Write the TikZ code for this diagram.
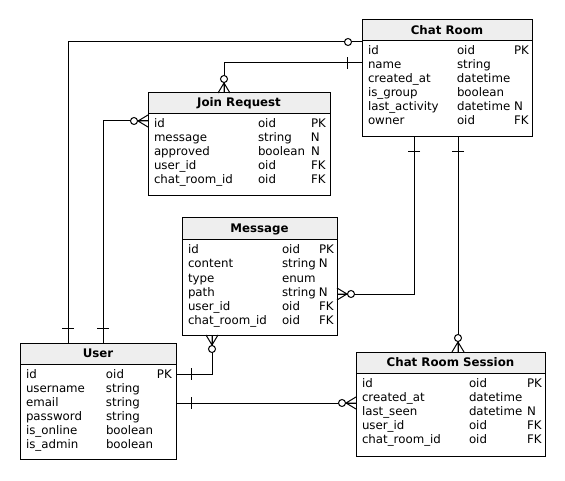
\documentclass[tikz,border=0pt]{standalone}
\usepackage{fontspec}
\setmainfont{DejaVu Sans}
\usetikzlibrary{calc}
\definecolor{headfill}{RGB}{238,238,238}
% fixed-width cell inside a field row
\newcommand{\fc}[2]{\makebox[#1pt][l]{#2}}
\begin{document}
\begin{tikzpicture}[x=1pt,y=-1pt,
  every node/.style={font=\fontsize{11.8}{14}\selectfont},
  tbl/.style={draw, line width=1pt, anchor=north west, inner sep=0pt, outer sep=0pt},
  thead/.style={draw, line width=1pt, fill=headfill, anchor=north west, inner sep=0pt, outer sep=0pt,
    font=\fontsize{11.8}{14}\selectfont\bfseries},
  fld/.style={anchor=base west, inner sep=0pt, outer sep=0pt},
  conn/.style={line width=1pt},
  % relationship ends, drawn outward along local +x from the table edge
  pics/one/.style={code={\draw[conn] (15,-6) -- (15,6);}},
  pics/optional/.style={code={\draw[conn,fill=white] (14,0) circle[radius=3.5];}},
  pics/zeromany/.style={code={
    \draw[conn] (0,-6) -- (10,0) -- (0,6) (0,0) -- (10,0);
    \draw[conn,fill=white] (14,0) circle[radius=3.5];}},
]
\fill[white] (0,0) rectangle (565,481);
\useasboundingbox (0,0) rectangle (565,481);

% ---------- Chat Room ----------
\node[tbl, minimum width=170, minimum height=117] (cr) at (362,20) {};
\node[thead, minimum width=170, minimum height=21] (crh) at (362,20) {Chat Room};
\node[fld] (cr1) at (368,55) {\fc{89}{id}\fc{57}{oid}PK};
\node[fld] (cr2) at (368,69) {\fc{89}{name}\fc{57}{string}};
\node[fld] (cr3) at (368,83) {\fc{89}{created\_at}\fc{57}{datetime}};
\node[fld] (cr4) at (368,97) {\fc{89}{is\_group}\fc{57}{boolean}};
\node[fld] (cr5) at (368,111) {\fc{89}{last\_activity}\fc{57}{datetime}N};
\node[fld] (cr6) at (368,125) {\fc{89}{owner}\fc{57}{oid}FK};

% ---------- Join Request ----------
\node[tbl, minimum width=182, minimum height=103] (jr) at (148,93) {};
\node[thead, minimum width=182, minimum height=21] (jrh) at (148,93) {Join Request};
\node[fld] (jr1) at (154,128) {\fc{104}{id}\fc{53}{oid}PK};
\node[fld] (jr2) at (154,142) {\fc{104}{message}\fc{53}{string}N};
\node[fld] (jr3) at (154,156) {\fc{104}{approved}\fc{53}{boolean}N};
\node[fld] (jr4) at (154,170) {\fc{104}{user\_id}\fc{53}{oid}FK};
\node[fld] (jr5) at (154,184) {\fc{104}{chat\_room\_id}\fc{53}{oid}FK};

% ---------- Message ----------
\node[tbl, minimum width=155, minimum height=117] (msg) at (182,218) {};
\node[thead, minimum width=155, minimum height=22] (msgh) at (182,218) {Message};
\node[fld] (msg1) at (188,254) {\fc{94}{id}\fc{37}{oid}PK};
\node[fld] (msg2) at (188,268) {\fc{94}{content}\fc{37}{string}N};
\node[fld] (msg3) at (188,282) {\fc{94}{type}\fc{37}{enum}};
\node[fld] (msg4) at (188,296) {\fc{94}{path}\fc{37}{string}N};
\node[fld] (msg5) at (188,310) {\fc{94}{user\_id}\fc{37}{oid}FK};
\node[fld] (msg6) at (188,324) {\fc{94}{chat\_room\_id}\fc{37}{oid}FK};

% ---------- User ----------
\node[tbl, minimum width=156, minimum height=116] (usr) at (20,343) {};
\node[thead, minimum width=156, minimum height=21] (usrh) at (20,343) {User};
\node[fld] (usr1) at (26,378) {\fc{80}{id}\fc{51}{oid}PK};
\node[fld] (usr2) at (26,392) {\fc{80}{username}\fc{51}{string}};
\node[fld] (usr3) at (26,406) {\fc{80}{email}\fc{51}{string}};
\node[fld] (usr4) at (26,420) {\fc{80}{password}\fc{51}{string}};
\node[fld] (usr5) at (26,434) {\fc{80}{is\_online}\fc{51}{boolean}};
\node[fld] (usr6) at (26,448) {\fc{80}{is\_admin}\fc{51}{boolean}};

% ---------- Chat Room Session ----------
\node[tbl, minimum width=189, minimum height=104] (crs) at (356,352) {};
\node[thead, minimum width=189, minimum height=21] (crsh) at (356,352) {Chat Room Session};
\node[fld] (crs1) at (362,387) {\fc{107}{id}\fc{58}{oid}PK};
\node[fld] (crs2) at (362,401) {\fc{107}{created\_at}\fc{58}{datetime}};
\node[fld] (crs3) at (362,415) {\fc{107}{last\_seen}\fc{58}{datetime}N};
\node[fld] (crs4) at (362,429) {\fc{107}{user\_id}\fc{58}{oid}FK};
\node[fld] (crs5) at (362,443) {\fc{107}{chat\_room\_id}\fc{58}{oid}FK};

% ---------- relationships ----------
% User -- Chat Room (owner)
\draw[conn] ($(usr.north west)+(48,0)$) |- ($(cr.north west)+(0,22)$);
\pic[rotate=90] at ($(usr.north west)+(48,0)$) {one};
\pic[rotate=180] at ($(cr.north west)+(0,22)$) {optional};

% Chat Room -- Join Request
\draw[conn] ($(cr.north west)+(0,43)$) -| ($(jr.north west)+(76,0)$);
\pic[rotate=180] at ($(cr.north west)+(0,43)$) {one};
\pic[rotate=90] at ($(jr.north west)+(76,0)$) {zeromany};

% User -- Join Request
\draw[conn] ($(usr.north west)+(83,0)$) |- ($(jr.north west)+(0,28)$);
\pic[rotate=90] at ($(usr.north west)+(83,0)$) {one};
\pic[rotate=180] at ($(jr.north west)+(0,28)$) {zeromany};

% Chat Room -- Message
\draw[conn] ($(cr.south west)+(52,0)$) |- ($(msg.north east)+(0,76)$);
\pic[rotate=270] at ($(cr.south west)+(52,0)$) {one};
\pic at ($(msg.north east)+(0,76)$) {zeromany};

% Chat Room -- Chat Room Session
\draw[conn] ($(cr.south west)+(96,0)$) -- ($(crs.north west)+(102,0)$);
\pic[rotate=270] at ($(cr.south west)+(96,0)$) {one};
\pic[rotate=90] at ($(crs.north west)+(102,0)$) {zeromany};

% User -- Message
\draw[conn] ($(usr.north east)+(0,31)$) -| ($(msg.south west)+(30,0)$);
\pic at ($(usr.north east)+(0,31)$) {one};
\pic[rotate=270] at ($(msg.south west)+(30,0)$) {zeromany};

% User -- Chat Room Session
\draw[conn] ($(usr.north east)+(0,60)$) -- ($(crs.north west)+(0,51)$);
\pic at ($(usr.north east)+(0,60)$) {one};
\pic[rotate=180] at ($(crs.north west)+(0,51)$) {zeromany};
\end{tikzpicture}
\end{document}
